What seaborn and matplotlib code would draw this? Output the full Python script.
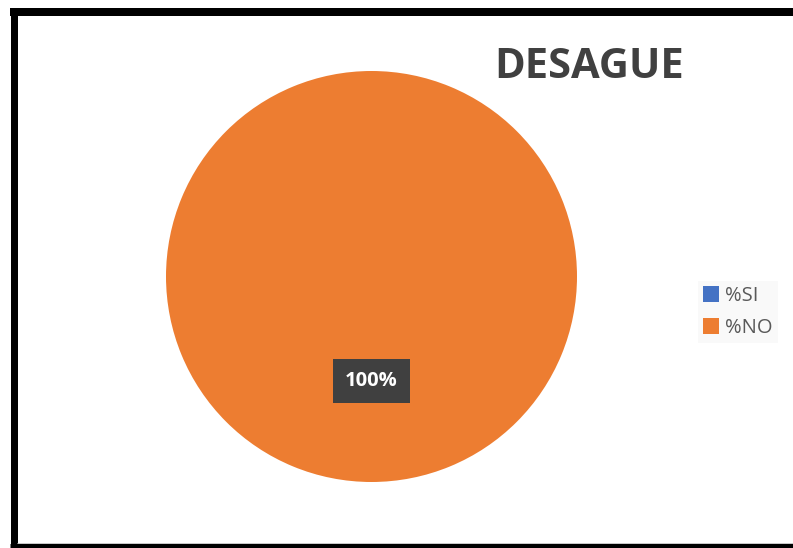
import matplotlib
matplotlib.use("Agg")
import matplotlib.pyplot as plt
import seaborn as sns
from matplotlib.lines import Line2D

sns.set_theme(style="white")
plt.rcParams["font.family"] = ["Open Sans", "DejaVu Sans"]

# Data
categories = ["%SI", "%NO"]
values = [0, 100]
colors = ["#4472C4", "#ED7D31"]
title = "DESAGUE"

W, H = 793, 548
fig = plt.figure(figsize=(W / 100, H / 100), dpi=100)
fig.patch.set_facecolor("white")

# Pie axes (square area, centred on the left part of the frame)
size = 411
ax = fig.add_axes([166 / W, (H - 482) / H, size / W, size / H])


def pct_label(p):
    return f"{p:.0f}%" if p > 0 else ""


wedges, texts, autotexts = ax.pie(
    values,
    colors=colors,
    startangle=90,
    counterclock=False,
    autopct=pct_label,
    pctdistance=0.51,
    wedgeprops=dict(linewidth=0),
    textprops=dict(color="white", fontsize=14.5, fontweight="bold"),
)
for t in autotexts:
    if t.get_text():
        t.set_bbox(dict(boxstyle="square,pad=0.6", facecolor="#404040",
                        edgecolor="none"))
ax.set_xlim(-1, 1)
ax.set_ylim(-1, 1)
ax.set_aspect("equal")
ax.axis("off")

# Title
fig.text(589 / W, 1 - 68 / H, title, ha="center", va="center",
         fontsize=30, fontweight="bold", color="#404040")

# Legend
leg = fig.legend(
    wedges, categories,
    loc="upper left", bbox_to_anchor=(698 / W, 1 - 281 / H),
    borderaxespad=0,
    frameon=True, fontsize=14.5, handlelength=0.8, handleheight=0.8,
    handletextpad=0.3, labelspacing=0.6, borderpad=0.25,
    labelcolor="#595959",
)
leg.get_frame().set_facecolor("#F8F8F8")
leg.get_frame().set_edgecolor("none")
leg.get_frame().set_boxstyle("square", pad=0)

# Outer black frame (left, top, bottom edges)
lw_px = lambda px: px * 72 / 100
fig.add_artist(Line2D([13.5 / W, 13.5 / W], [1 - 8 / H, 0], transform=fig.transFigure,
                      color="black", linewidth=lw_px(7), solid_capstyle="butt"))
fig.add_artist(Line2D([10 / W, 1], [1 - 12 / H, 1 - 12 / H],
                      transform=fig.transFigure, color="black", linewidth=lw_px(8),
                      solid_capstyle="butt"))
fig.add_artist(Line2D([10 / W, 1], [1 - 546 / H, 1 - 546 / H],
                      transform=fig.transFigure, color="black", linewidth=lw_px(5),
                      solid_capstyle="butt"))
fig.add_artist(Line2D([17 / W, 1], [1 - 543 / H, 1 - 543 / H],
                      transform=fig.transFigure, color="#C8C8C8", linewidth=lw_px(1),
                      solid_capstyle="butt"))

fig.savefig("out.png", dpi=100, facecolor="white")
